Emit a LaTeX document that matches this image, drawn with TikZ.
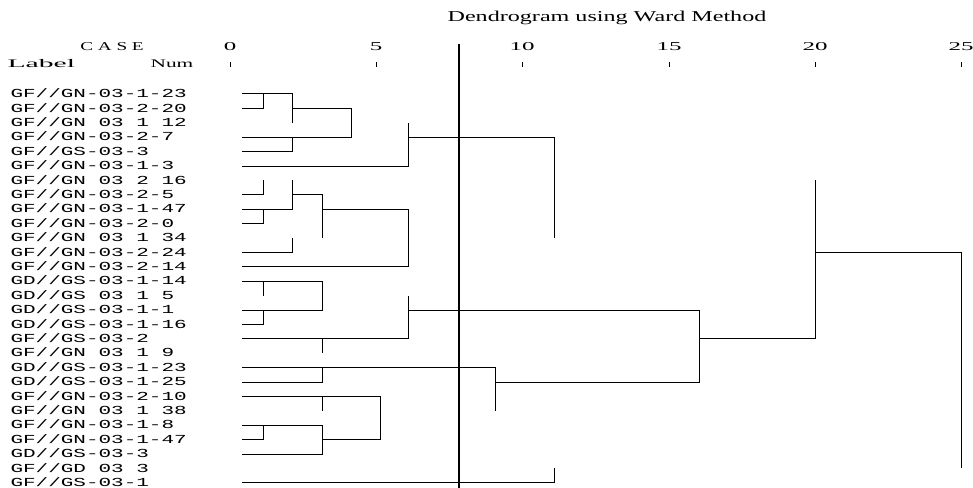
\documentclass[tikz,border=0pt]{standalone}
\usepackage{graphicx}
\usepackage{fontspec}
\usepackage{tikz}
\newfontfamily\labfont[FakeStretch=1.71]{Liberation Mono}
\newfontfamily\hdfont[FakeStretch=1.6]{Liberation Serif}

\begin{document}
\begin{tikzpicture}[x=0.75pt,y=-10.8pt,line width=0.75pt,
    caselab/.style={anchor=base west,inner sep=0pt,font=\labfont\fontsize{9.2}{10}\selectfont},
    axnum/.style={anchor=base,inner sep=0pt,font=\hdfont\fontsize{9}{10}\selectfont}]
        \useasboundingbox (0,-5.528) rectangle (973,28.36);

        \node[anchor=base,inner sep=0pt,font=\hdfont\fontsize{11.3}{12}\selectfont] (title) at (607,-4) {Dendrogram using Ward Method};
        \node[axnum] (case) at (112,-2) {C A S E};
        \node[axnum,anchor=base west,font=\hdfont\fontsize{8.7}{10}\selectfont] (lbl) at (7,-0.81) {\scalebox{1.6}[1]{Label}};
        \node[axnum,font=\hdfont\fontsize{8.7}{10}\selectfont] (num) at (172,-0.81) {\scalebox{1.15}[1]{Num}};

        \foreach \x/\v in {230/0,376/5,522/10,669/15,815/20,961/25} {
            \node[axnum] (n\v) at (\x,-2) {\scalebox{1.3}[1]{\v}};
            \draw (\x,-1.22) -- (\x,-0.875);
        }

        \foreach \lab [count=\i] in {GF//GN-03-1-23,GF//GN-03-2-20,GF//GN 03 1 12,GF//GN-03-2-7,
            GF//GS-03-3,GF//GN-03-1-3,GF//GN 03 2 16,GF//GN-03-2-5,GF//GN-03-1-47,GF//GN-03-2-0,
            GF//GN 03 1 34,GF//GN-03-2-24,GF//GN-03-2-14,GD//GS-03-1-14,GD//GS 03 1 5,GD//GS-03-1-1,
            GD//GS-03-1-16,GF//GS-03-2,GF//GN 03 1 9,GD//GS-03-1-23,GD//GS-03-1-25,GF//GN-03-2-10,
            GF//GN 03 1 38,GF//GN-03-1-8,GF//GN-03-1-47,GD//GS-03-3,GF//GD 03 3,GF//GS-03-1} {
            \node[caselab] (c\i) at (10,\i+0.25) {\lab};
            \coordinate (l\i) at (242,\i);
        }

        % first group
        \draw (l1) -| (292,3);
        \draw (l2) -| (263,1);
        \draw (292,2) -| (351,4) -- (l4);
        \draw (l5) -| (292,4);
        \draw (l6) -| (408,3);
        \draw (408,4) -| (554,11);

        % second group
        \draw (l8) -| (263,7);
        \draw (l9) -| (292,7);
        \draw (l10) -| (263,9);
        \draw (292,8) -| (322,11);
        \draw (322,9) -| (408,13) -- (l13);
        \draw (l12) -| (292,11);

        % third group
        \draw (l14) -| (322,16) -- (l16);
        \draw (263,14) -- (263,15);
        \draw (l17) -| (263,16);
        \draw (l18) -| (408,15);
        \draw (408,16) -| (699,21) -- (495,21);
        \draw (322,18) -- (322,19);

        % fourth group
        \draw (l20) -| (495,23);
        \draw (l21) -| (322,20);
        \draw (l22) -| (380,25) -- (322,25);
        \draw (322,22) -- (322,23);
        \draw (l24) -| (322,26) -- (l26);
        \draw (l25) -| (263,24);

        % top joins
        \draw (699,18) -| (815,7);
        \draw (815,12) -| (961,27);
        \draw (l28) -| (554,27);

        \draw[line width=1pt] (459,-2.47) -- (459,28.36);
\end{tikzpicture}
\end{document}
